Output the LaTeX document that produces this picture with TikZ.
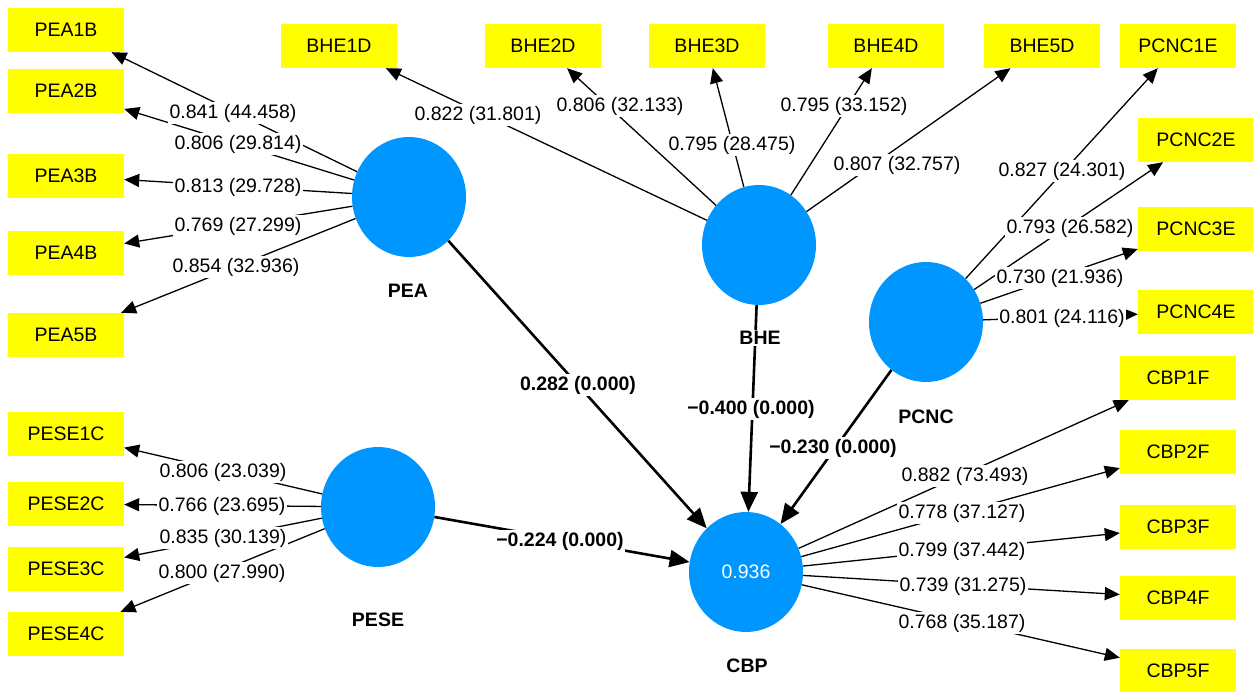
\documentclass[tikz,border=0pt]{standalone}
\usepackage{fontspec}
\setmainfont{Liberation Sans}
\usetikzlibrary{shapes.geometric,arrows.meta}
\definecolor{lvblue}{RGB}{0,150,255}
\definecolor{mvyellow}{RGB}{255,255,0}
\begin{document}
\begin{tikzpicture}[x=1pt,y=-1pt,
  mv/.style={fill=mvyellow, minimum width=116pt, minimum height=44pt, inner sep=0pt, font=\fontsize{19.5}{23}\selectfont},
  lv/.style={ellipse, fill=lvblue, minimum width=114pt, minimum height=120pt, inner sep=0pt, text=white, font=\fontsize{19.5}{23}\selectfont},
  load/.style={line width=1.3pt, -{Triangle[length=15pt,width=13pt]}},
  struct/.style={line width=2.6pt, -{Triangle[length=20pt,width=17pt]}},
  lbl/.style={fill=white, inner sep=1.5pt, font=\fontsize{19.5}{23}\selectfont},
  blbl/.style={fill=white, inner sep=1.5pt, font=\fontsize{19.5}{23}\selectfont\bfseries},
  lvname/.style={fill=white, inner sep=1.5pt, font=\fontsize{19.5}{23}\selectfont\bfseries}]
\useasboundingbox (0,0) rectangle (1253,692);
% indicators
\node[mv] (pea1) at (66,30) {PEA1B};
\node[mv] (pea2) at (66,91) {PEA2B};
\node[mv] (pea3) at (66,176) {PEA3B};
\node[mv] (pea4) at (66,253) {PEA4B};
\node[mv] (pea5) at (66,335) {PEA5B};
\node[mv] (bhe1) at (339,46) {BHE1D};
\node[mv] (bhe2) at (543,46) {BHE2D};
\node[mv] (bhe3) at (707,46) {BHE3D};
\node[mv] (bhe4) at (886,46) {BHE4D};
\node[mv] (bhe5) at (1042,46) {BHE5D};
\node[mv] (pcnc1) at (1178,46) {PCNC1E};
\node[mv] (pcnc2) at (1196,140) {PCNC2E};
\node[mv] (pcnc3) at (1196,229) {PCNC3E};
\node[mv] (pcnc4) at (1196,312) {PCNC4E};
\node[mv] (cbp1) at (1178,378) {CBP1F};
\node[mv] (cbp2) at (1178,452) {CBP2F};
\node[mv] (cbp3) at (1178,527) {CBP3F};
\node[mv] (cbp4) at (1178,598) {CBP4F};
\node[mv] (cbp5) at (1178,671) {CBP5F};
\node[mv] (pese1) at (66,434) {PESE1C};
\node[mv] (pese2) at (66,504) {PESE2C};
\node[mv] (pese3) at (66,569) {PESE3C};
\node[mv] (pese4) at (66,634) {PESE4C};
% latent variables
\node[lv] (PEA) at (409,197) {};
\node[lv] (BHE) at (759,245) {};
\node[lv] (PCNC) at (926,322) {};
\node[lv] (PESE) at (378,507) {};
\node[lv] (CBP) at (746,572) {0.936};
% loadings
\foreach \i in {1,...,5} \draw[load] (PEA) -- (pea\i);
\foreach \i in {1,...,5} \draw[load] (BHE) -- (bhe\i);
\foreach \i in {1,...,4} \draw[load] (PCNC) -- (pcnc\i);
\foreach \i in {1,...,4} \draw[load] (PESE) -- (pese\i);
\foreach \i in {1,...,5} \draw[load] (CBP) -- (cbp\i);
% structural paths
\draw[struct] (PEA) -- (CBP);
\draw[struct] (BHE) -- (CBP);
\draw[struct] (PCNC) -- (CBP);
\draw[struct] (PESE) -- (CBP);
% latent names
\node[lvname] (nPEA) at (408,291) {PEA};
\node[lvname] (nBHE) at (760,338) {BHE};
\node[lvname] (nPCNC) at (926,417) {PCNC};
\node[lvname] (nPESE) at (378,620) {PESE};
\node[lvname] (nCBP) at (747,666) {CBP};
% loading labels
\node[lbl] (l1) at (233,113) {0.841 (44.458)};
\node[lbl] (l2) at (238,144) {0.806 (29.814)};
\node[lbl] (l3) at (238,187) {0.813 (29.728)};
\node[lbl] (l4) at (238,226) {0.769 (27.299)};
\node[lbl] (l5) at (236,267) {0.854 (32.936)};
\node[lbl] (l6) at (478,115) {0.822 (31.801)};
\node[lbl] (l7) at (620,106) {0.806 (32.133)};
\node[lbl] (l8) at (732,145) {0.795 (28.475)};
\node[lbl] (l9) at (844,106) {0.795 (33.152)};
\node[lbl] (l10) at (897,165) {0.807 (32.757)};
\node[lbl] (l11) at (1062,171) {0.827 (24.301)};
\node[lbl] (l12) at (1070,228) {0.793 (26.582)};
\node[lbl] (l13) at (1060,278) {0.730 (21.936)};
\node[lbl] (l14) at (1062,318) {0.801 (24.116)};
\node[lbl] (l15) at (965,476) {0.882 (73.493)};
\node[lbl] (l16) at (962,513) {0.778 (37.127)};
\node[lbl] (l17) at (962,551) {0.799 (37.442)};
\node[lbl] (l18) at (963,586) {0.739 (31.275)};
\node[lbl] (l19) at (962,623) {0.768 (35.187)};
\node[lbl] (l20) at (223,472) {0.806 (23.039)};
\node[lbl] (l21) at (222,506) {0.766 (23.695)};
\node[lbl] (l22) at (223,538) {0.835 (30.139)};
\node[lbl] (l23) at (222,573) {0.800 (27.990)};
% path coefficients
\node[blbl] (p1) at (578,385) {0.282 (0.000)};
\node[blbl] (p2) at (751,409) {−0.400 (0.000)};
\node[blbl] (p3) at (833,448) {−0.230 (0.000)};
\node[blbl] (p4) at (560,541) {−0.224 (0.000)};
\end{tikzpicture}
\end{document}
